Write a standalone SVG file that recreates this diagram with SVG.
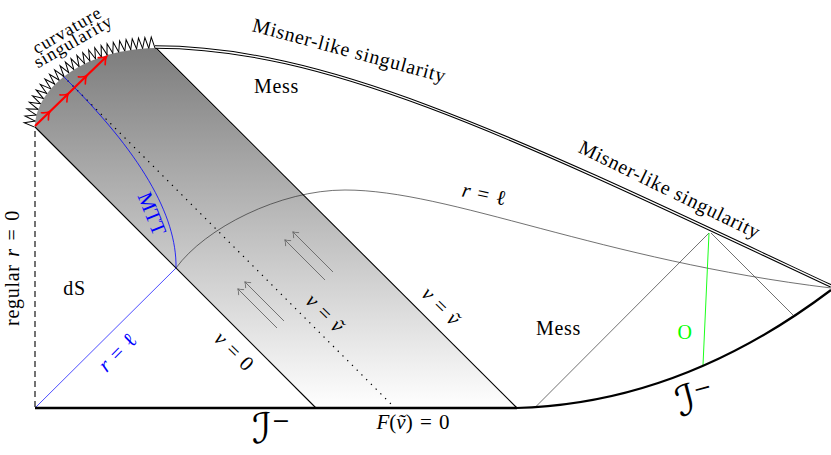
<svg xmlns="http://www.w3.org/2000/svg" width="831" height="455" viewBox="0 0 831 455">
<defs>
<linearGradient id="bandFill" gradientUnits="userSpaceOnUse" x1="0" y1="46" x2="0" y2="408">
<stop offset="0" stop-color="#7c7c7c"/>
<stop offset="1" stop-color="#ffffff"/>
</linearGradient>
<marker id="tooth" markerUnits="userSpaceOnUse" orient="auto" markerWidth="30" markerHeight="30" viewBox="-15 -15 30 30" refX="0" refY="0" overflow="visible">
<path d="M-3.1 0 L0 -11 L3.1 0" fill="none" stroke="#000" stroke-width="1" stroke-linejoin="miter"/>
</marker>
<marker id="redHead" markerUnits="userSpaceOnUse" orient="auto" markerWidth="30" markerHeight="30" viewBox="-15 -15 30 30" refX="0" refY="0" overflow="visible">
<path d="M-6 -5 Q-2.2 -0.9 0.9 0 Q-2.2 0.9 -6 5" fill="none" stroke="#ff0000" stroke-width="1.6" stroke-linecap="round"/>
</marker>
<marker id="grayHead" markerUnits="userSpaceOnUse" orient="auto" markerWidth="24" markerHeight="24" viewBox="-12 -12 24 24" refX="0" refY="0" overflow="visible">
<path d="M-4.5 -3.6 Q-1.6 -0.7 0.4 0 Q-1.6 0.7 -4.5 3.6" fill="none" stroke="#666" stroke-width="0.8" stroke-linecap="round"/>
</marker>
</defs>
<style>
.txt{font-family:"Liberation Serif","DejaVu Serif",serif;font-size:20px;fill:#000;letter-spacing:0.7px}
.sm{font-size:18px;letter-spacing:1px}
.math{font-family:"Liberation Serif","DejaVu Serif",serif;font-size:21px;fill:#000;word-spacing:2px}
.it{font-style:italic}
.blue{fill:#0000ff}
.green{fill:#00ff00}
.thin{fill:none;stroke:#333;stroke-width:0.7}
.edge{fill:none;stroke:#000;stroke-width:1.1}
.arr{stroke:#666;stroke-width:0.9;marker-end:url(#grayHead)}
.scri{font-family:"DejaVu Serif","DejaVu Sans",serif;font-size:42px;fill:#000}
</style>

<g id="band">
<path d="M35 127 C35 90 80 50 155 48 L517 408 L316 408 Z" fill="url(#bandFill)"/>
</g>

<g id="connectors">
<path class="thin" stroke="#444" d="M176 268 C205 228 280 190 345 190 C450 190 600 260 831 288"/>
<line x1="63" y1="76" x2="395" y2="408" stroke="#000" stroke-width="1.2" stroke-dasharray="1.3 5.4"/>
<path d="M63 76 C140 152 177 215 176 268" fill="none" stroke="#0000ff" stroke-width="0.8"/>
<line x1="35" y1="408" x2="176" y2="268" stroke="#0000ff" stroke-width="0.7"/>
<line class="edge" x1="35" y1="127" x2="316" y2="408"/>
<line class="edge" x1="155" y1="47" x2="517" y2="408"/>
<line x1="35" y1="131" x2="35" y2="408" stroke="#444" stroke-width="1.5" stroke-dasharray="6 4"/>
<line class="thin" x1="535" y1="407.5" x2="709" y2="233"/>
<line class="thin" x1="711" y1="233" x2="793" y2="315"/>
<line x1="709" y1="233" x2="703" y2="365" stroke="#00ff00" stroke-width="0.9"/>
<line x1="35" y1="408" x2="517" y2="408" stroke="#000" stroke-width="2.6"/>
<path d="M516 408 Q680 404 831 290" fill="none" stroke="#000" stroke-width="2.2"/>
<path d="M155 47 C330 47 520 140 831 286" fill="none" stroke="#000" stroke-width="3.4"/>
<path d="M155 47 C330 47 520 140 831 286" fill="none" stroke="#fff" stroke-width="1.3"/>
<polyline fill="none" stroke="none" marker-start="url(#tooth)" marker-mid="url(#tooth)" marker-end="url(#tooth)" points="35.10,124.03 35.86,118.08 37.35,112.20 39.42,106.65 42.14,101.17 45.27,96.09 48.84,91.27 52.91,86.57 57.06,82.42 61.59,78.45 66.53,74.63 71.36,71.31 76.47,68.17 81.92,65.20 87.31,62.58 92.76,60.23 98.45,58.05 104.38,56.06 109.98,54.41 115.77,52.93 121.74,51.64 127.89,50.52 133.68,49.66 139.59,48.97 145.65,48.45 151.85,48.11"/>
<polyline fill="none" stroke="#ff0000" stroke-width="2.2" marker-mid="url(#redHead)" marker-end="url(#redHead)" points="35,126 49.2,112.2 67.7,94.3 86.1,76.3 106,57"/>
<line class="arr" x1="333" y1="272" x2="293" y2="232"/>
<line class="arr" x1="325" y1="280" x2="285" y2="240"/>
<line class="arr" x1="284" y1="321" x2="245" y2="282"/>
<line class="arr" x1="277" y1="328" x2="238" y2="289"/>
</g>

<g id="label-curvature">
<text class="txt sm" text-anchor="middle" transform="translate(67,30) rotate(-30)" y="6">curvature</text>
<text class="txt sm" text-anchor="middle" transform="translate(74,43) rotate(-30)" y="4">singularity</text>
</g>
<g id="label-misner-1"><text class="txt" text-anchor="middle" transform="translate(349,52) rotate(15)" y="5">Misner-like singularity</text></g>
<g id="label-misner-2"><text class="txt" text-anchor="middle" transform="translate(669,191) rotate(26)" y="5">Misner-like singularity</text></g>
<g id="region-mess-1"><text class="txt" text-anchor="middle" x="276.5" y="93">Mess</text></g>
<g id="region-mess-2"><text class="txt" text-anchor="middle" x="558.5" y="335">Mess</text></g>
<g id="region-ds"><text class="txt" text-anchor="middle" x="74.5" y="295">dS</text></g>
<g id="label-regular"><text class="txt" text-anchor="middle" transform="translate(18.5,268) rotate(-90)" style="word-spacing:2px">regular <tspan class="it">r</tspan> = 0</text></g>
<g id="label-mtt"><text class="math blue" font-size="18" text-anchor="middle" transform="translate(151,214) rotate(68)" y="6">MTT</text></g>
<g id="label-rl-blue"><text class="math blue" text-anchor="middle" transform="translate(118,353) rotate(-45)" y="6"><tspan class="it">r</tspan> = ℓ</text></g>
<g id="label-v0"><text class="math" text-anchor="middle" transform="translate(234,351) rotate(45)" y="7"><tspan class="it">v</tspan> = 0</text></g>
<g id="label-vt-mid"><text class="math" text-anchor="middle" transform="translate(325,313) rotate(45)" y="7"><tspan class="it">v</tspan> = <tspan class="it">ṽ</tspan></text></g>
<g id="label-vt-edge"><text class="math" text-anchor="middle" transform="translate(441,306) rotate(45)" y="7"><tspan class="it">v</tspan> = <tspan class="it">ṽ</tspan></text></g>
<g id="label-rl"><text class="math" text-anchor="middle" transform="translate(484,195) rotate(12)" y="6"><tspan class="it">r</tspan> = ℓ</text></g>
<g id="label-O"><text class="txt green" text-anchor="middle" x="685" y="339">O</text></g>
<g id="label-F"><text class="math" text-anchor="middle" x="413" y="429"><tspan class="it">F</tspan>(<tspan class="it">ṽ</tspan>) = 0</text></g>
<g id="label-scri-1"><text class="scri" x="252" y="443">ℐ<tspan font-size="22" dy="-15">−</tspan></text></g>
<g id="label-scri-2"><text class="scri" transform="translate(680,417) rotate(-15)">ℐ<tspan font-size="22" dy="-15">−</tspan></text></g>
</svg>
